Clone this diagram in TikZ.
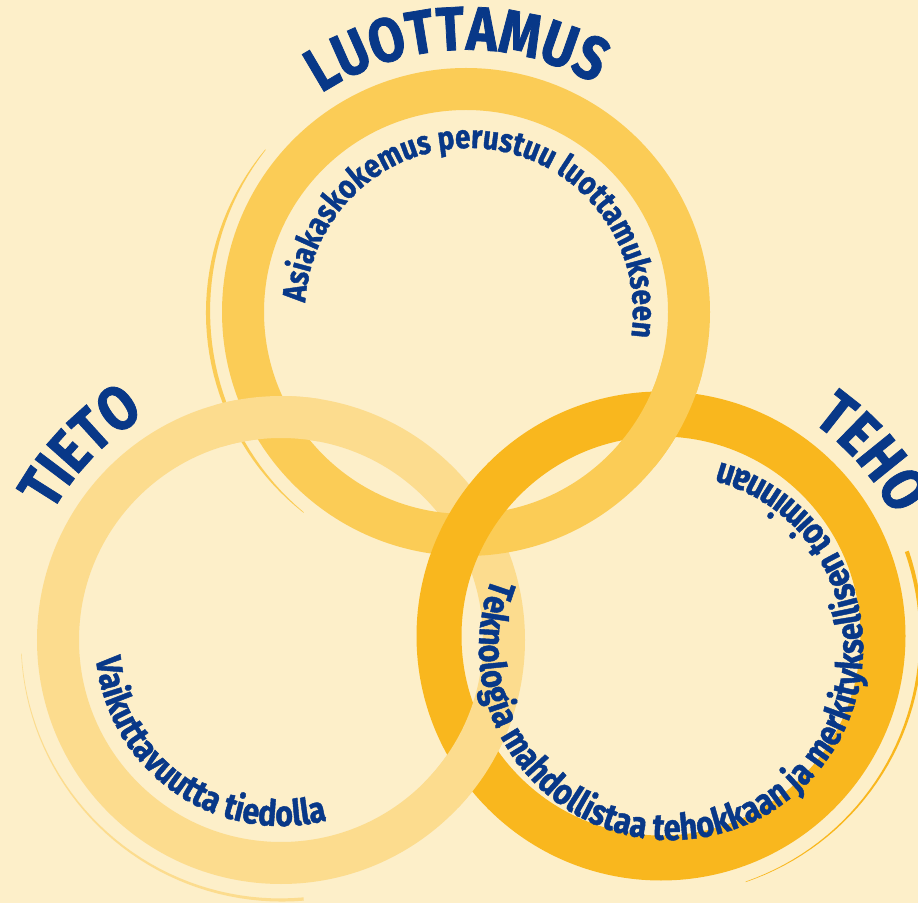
\documentclass[tikz,border=0pt]{standalone}
\usepackage{fontspec}
\newfontfamily\ringfont{Fira Sans}[FakeStretch=0.84, BoldFeatures={FakeBold=1.2}]
\usetikzlibrary{decorations.text}

\definecolor{paper}{RGB}{253,239,201}
\definecolor{ringlight}{RGB}{252,220,142}
\definecolor{ringmid}{RGB}{251,204,86}
\definecolor{ringdeep}{RGB}{249,183,30}
\definecolor{inkblue}{RGB}{8,56,136}

\begin{document}
\begin{tikzpicture}[x=1pt,y=1pt]
% --- Layout & Styles --------------------------------------
\tikzstyle{ring}=[line width=42pt]
\tikzstyle{arc text}=[decorate, decoration={text along path, text align=center, text color=inkblue}]
\newcommand{\bigtext}{\ringfont\bfseries\fontsize{62}{62}\selectfont}
\newcommand{\ringtext}[1]{\ringfont\bfseries\fontsize{#1}{#1}\selectfont}

\useasboundingbox (0,0) rectangle (918,903);
\fill[paper] (0,0) rectangle (918,903);

\coordinate (luottamus) at (466,591);
\coordinate (tieto) at (281,263);
\coordinate (teho) at (661,267);
\coordinate (teho text) at (671,255);
\coordinate (cross tl) at (269,486);
\coordinate (cross tr) at (665,490);
\coordinate (cross lr) at (472,148);

% --- Thin arcs --------------------------------------------
\fill[ringmid, shift={(luottamus)}]
  plot[domain=141:231, samples=40] (\x:{258+0.3+1.8*sin(2*(\x-141))})
  -- plot[domain=231:141, samples=40] (\x:{258-0.3-1.8*sin(2*(\x-141))}) -- cycle;
\fill[ringlight, shift={(tieto)}]
  plot[domain=183:275, samples=40] (\x:{260+0.25+1.4*(\x-183)/92})
  -- plot[domain=275:183, samples=40] (\x:{260-0.25-1.4*(\x-183)/92}) -- cycle;
\fill[ringdeep, shift={(teho)}]
  plot[domain=-71:19, samples=40] (\x:{260+0.25+1.8*(\x+71)/90})
  -- plot[domain=19:-71, samples=40] (\x:{260-0.25-1.8*(\x+71)/90}) -- cycle;

% --- Rings ------------------------------------------------
\draw[ring, ringlight] (tieto) circle[radius=223];
\draw[ring, ringmid] (luottamus) circle[radius=223];
\draw[ring, ringdeep, line width=45pt] (teho) circle[radius=222];

% over-under crossings
\begin{scope}
  \clip (cross tl) circle[radius=55];
  \draw[ring, ringlight] (tieto) circle[radius=223];
\end{scope}
\begin{scope}
  \clip (cross tr) circle[radius=55];
  \draw[ring, ringmid] (luottamus) circle[radius=223];
\end{scope}
\begin{scope}
  \clip (cross lr) circle[radius=55];
  \draw[ring, ringlight] (tieto) circle[radius=223];
\end{scope}

% --- Titles -----------------------------------------------
\path[arc text, decoration={text={|\bigtext|LUOTTAMUS}}]
  (luottamus) ++(152:262) arc[start angle=152, end angle=32, radius=262];
\path[arc text, decoration={text={|\bigtext|TIETO}}]
  (tieto) ++(196:262) arc[start angle=196, end angle=76, radius=262];
\path[arc text, decoration={text={|\bigtext|TEHO}}]
  (teho) ++(101:262) arc[start angle=101, end angle=-19, radius=262];

% --- Ring texts -------------------------------------------
\path[arc text, decoration={text={|\ringtext{33}|Asiakaskokemus perustuu luottamukseen}}]
  ([xshift=3pt]luottamus) ++(184:164) arc[start angle=184, end angle=-16, radius=164];
\path[arc text, decoration={text={|\ringtext{36}|Vaikuttavuutta tiedolla}}]
  (tieto) ++(154:186) arc[start angle=154, end angle=316, radius=186];
\path[arc text, decoration={text={|\ringtext{36.5}|Teknologia mahdollistaa tehokkaan ja merkityksellisen toiminnan}}]
  (teho text) ++(137:192) arc[start angle=137, end angle=457, radius=192];

\end{tikzpicture}
\end{document}
